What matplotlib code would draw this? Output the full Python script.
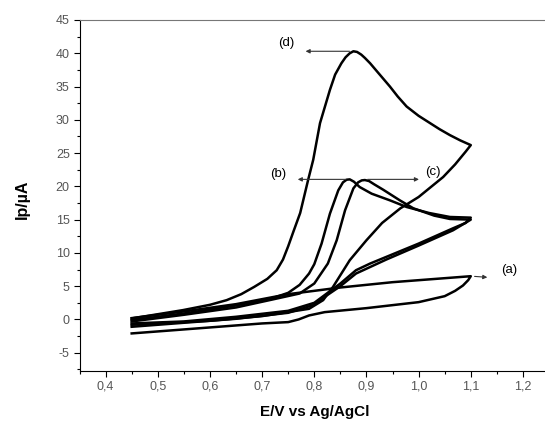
import numpy as np
import matplotlib.pyplot as plt
from matplotlib.ticker import MultipleLocator, FuncFormatter

# curve (a): forward and reverse scan
a_fx = [0.45, 0.55, 0.65, 0.75, 0.85, 0.95, 1.05, 1.10]
a_fy = [0.2, 1.2, 2.3, 3.8, 4.8, 5.6, 6.2, 6.5]
a_rx = [1.10, 1.095, 1.085, 1.07, 1.05, 1.0, 0.9, 0.82, 0.79, 0.77, 0.75, 0.7, 0.6, 0.5, 0.45]
a_ry = [6.5, 5.9, 5.1, 4.3, 3.5, 2.6, 1.7, 1.1, 0.6, 0.0, -0.4, -0.6, -1.2, -1.8, -2.1]

# curve (b)
b_fx = [0.45, 0.55, 0.65, 0.72, 0.75, 0.772, 0.79, 0.80, 0.814, 0.83, 0.846,
        0.855, 0.862, 0.868, 0.876, 0.887, 0.91, 0.945, 0.977, 1.02, 1.06, 1.10]
b_fy = [-0.1, 0.9, 2.1, 3.2, 4.0, 5.2, 6.9, 8.3, 11.4, 15.9, 19.4,
        20.6, 21.0, 21.05, 20.7, 19.9, 18.9, 17.9, 16.9, 16.0, 15.4, 15.3]
b_rx = [1.10, 1.09, 1.066, 1.0, 0.938, 0.907, 0.88, 0.85, 0.824, 0.80, 0.75, 0.65, 0.55, 0.45]
b_ry = [15.3, 14.5, 13.7, 11.4, 9.4, 8.4, 7.4, 5.4, 3.9, 2.5, 1.3, 0.4, -0.3, -0.6]

# curve (c)
c_fx = [0.45, 0.55, 0.65, 0.72, 0.772, 0.80, 0.826, 0.843, 0.859, 0.875,
        0.884, 0.891, 0.897, 0.905, 0.915, 0.932, 0.964, 0.99, 1.03, 1.06, 1.10]
c_fy = [-0.3, 0.7, 1.8, 3.0, 3.9, 5.4, 8.4, 11.9, 16.4, 19.7,
        20.6, 20.9, 20.95, 20.8, 20.3, 19.5, 17.9, 16.7, 15.6, 15.1, 15.0]
c_rx = [1.10, 1.066, 1.0, 0.938, 0.88, 0.85, 0.82, 0.80, 0.75, 0.65, 0.55, 0.45]
c_ry = [15.0, 13.4, 11.1, 9.0, 6.9, 5.0, 3.4, 2.2, 1.0, 0.1, -0.5, -1.1]

# curve (d)
d_fx = [0.45, 0.548, 0.60, 0.632, 0.66, 0.685, 0.71, 0.728, 0.74, 0.75, 0.76, 0.773,
        0.788, 0.798, 0.811, 0.83, 0.84, 0.852, 0.86, 0.868, 0.875, 0.882, 0.89,
        0.897, 0.907, 0.92, 0.945, 0.96, 0.977, 1.0, 1.022, 1.04, 1.06, 1.08, 1.10]
d_fy = [0.15, 1.4, 2.2, 2.9, 3.8, 4.9, 6.1, 7.4, 9.0, 11.0, 13.2, 16.0,
        20.9, 24.0, 29.5, 34.5, 36.8, 38.5, 39.4, 40.0, 40.3, 40.2, 39.8,
        39.3, 38.5, 37.3, 35.0, 33.5, 32.0, 30.6, 29.5, 28.6, 27.7, 26.9, 26.2]
d_rx = [1.10, 1.09, 1.07, 1.047, 1.0, 0.965, 0.93, 0.9, 0.868, 0.836, 0.817, 0.79, 0.7, 0.6, 0.45]
d_ry = [26.2, 25.2, 23.3, 21.4, 18.4, 16.7, 14.5, 11.9, 8.9, 4.9, 2.9, 1.6, 0.5, -0.2, -0.8]

curves = [(a_fx, a_fy, a_rx, a_ry), (b_fx, b_fy, b_rx, b_ry),
          (c_fx, c_fy, c_rx, c_ry), (d_fx, d_fy, d_rx, d_ry)]

fig = plt.figure(figsize=(5.45, 4.21), dpi=100)
ax = fig.add_axes([0.1459, 0.1195, 0.8615, 0.833])

for fx, fy, rx, ry in curves:
    ax.plot(fx + rx, fy + ry, color='k', lw=1.8, solid_joinstyle='round')

# labels and arrows
arr = dict(arrowstyle='-|>', color='#333333', lw=0.8, mutation_scale=6)
ax.annotate('', xy=(0.778, 40.3), xytext=(0.873, 40.3), arrowprops=arr)
ax.annotate('', xy=(0.763, 21.05), xytext=(0.866, 21.05), arrowprops=arr)
ax.annotate('', xy=(1.006, 21.05), xytext=(0.897, 21.05), arrowprops=arr)
ax.annotate('', xy=(1.137, 6.3), xytext=(1.102, 6.5), arrowprops=arr)
tk = dict(fontsize=9.5, ha='center', va='center', family='Liberation Sans')
ax.text(0.747, 41.6, '(d)', **tk)
ax.text(0.731, 21.8, '(b)', **tk)
ax.text(1.028, 22.1, '(c)', **tk)
ax.text(1.174, 7.4, '(a)', **tk)

ax.set_xlim(0.35, 1.25)
ax.set_ylim(-7.7, 45)
ax.xaxis.set_major_locator(MultipleLocator(0.1))
ax.xaxis.set_minor_locator(MultipleLocator(0.05))
ax.yaxis.set_major_locator(MultipleLocator(5))
ax.yaxis.set_minor_locator(MultipleLocator(2.5))
ax.xaxis.set_major_formatter(FuncFormatter(lambda v, p: ('%.1f' % v).replace('.', ',')))
ax.yaxis.set_major_formatter(FuncFormatter(lambda v, p: '%d' % v))
ax.tick_params(which='major', direction='out', length=4, width=0.8,
               labelsize=9, labelcolor='#555555', pad=3)
ax.tick_params(which='minor', direction='out', length=2.5, width=0.8)
for lab in ax.get_xticklabels() + ax.get_yticklabels():
    lab.set_family('Liberation Sans')
ax.spines['top'].set_color('#777777')
ax.spines['right'].set_visible(False)

ax.set_xlabel('E/V vs Ag/AgCl', fontsize=11, fontweight='bold',
              family='Liberation Sans')
ax.set_ylabel('Ip/\u00b5A', fontsize=11.5, fontweight='bold',
              family='Liberation Sans')
ax.xaxis.set_label_coords(0.5, -0.098)
ax.yaxis.set_label_coords(-0.105, 0.49)

plt.savefig('out.png', dpi=100)
